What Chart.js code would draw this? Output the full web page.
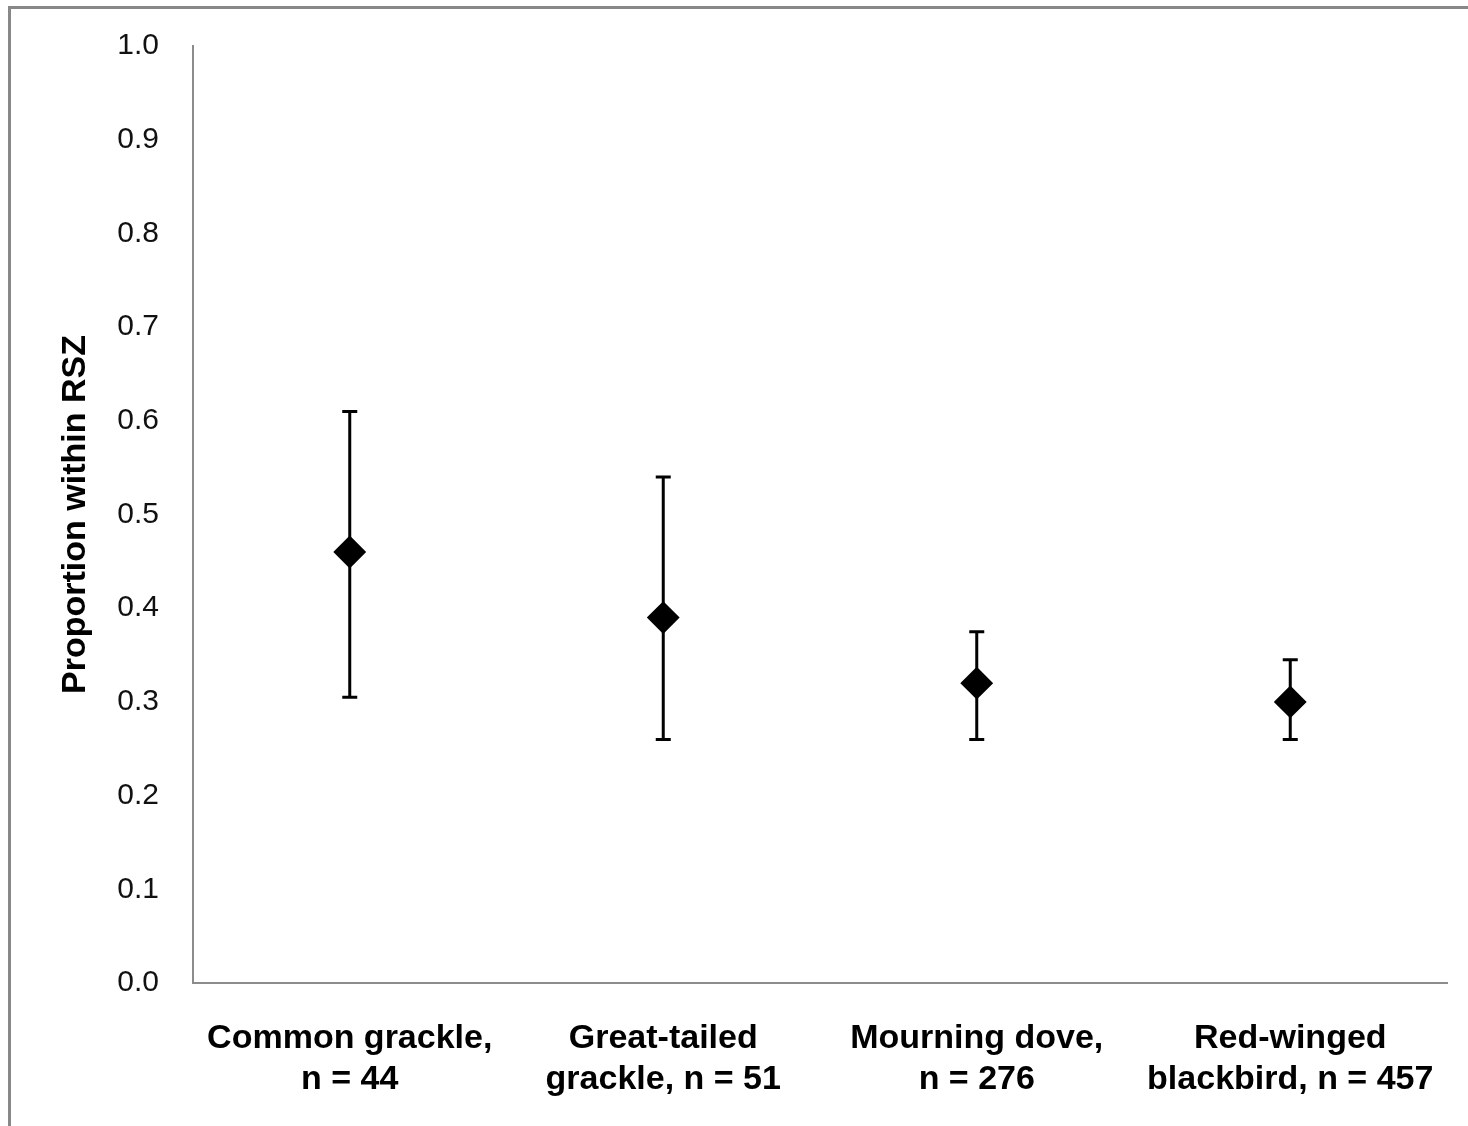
<!DOCTYPE html>
<html>
<head>
<meta charset="utf-8">
<script src="https://cdn.jsdelivr.net/npm/chart.js@4.4.1/dist/chart.umd.min.js"></script>
<style>
  html, body { margin: 0; padding: 0; background: #ffffff; }
  #wrap { width: 1468px; height: 1126px; }
</style>
</head>
<body>
<div id="wrap"><canvas id="c" width="1468" height="1126"></canvas></div>
<script>
// Species sampled, with sample sizes
const categories = [
  ['Common grackle,', 'n = 44'],
  ['Great-tailed', 'grackle, n = 51'],
  ['Mourning dove,', 'n = 276'],
  ['Red-winged', 'blackbird, n = 457']
];
// Proportion of individuals within the RSZ and its confidence limits
const proportion = [0.46, 0.39, 0.32, 0.30];
const lowerLimit = [0.305, 0.26, 0.26, 0.26];
const upperLimit = [0.61, 0.54, 0.375, 0.345];
// Y axis tick range
const yMin = 0.0;
const yMax = 1.0;
const yStep = 0.1;

const AXIS_GREY = '#8c8c8c';

// Whisker lines with end caps, drawn under the diamond markers
const errorBars = {
  id: 'errorBars',
  beforeDatasetsDraw(chart) {
    const { ctx, scales: { x, y } } = chart;
    ctx.save();
    ctx.strokeStyle = '#000000';
    ctx.lineWidth = 3;
    const cap = 7.5;
    proportion.forEach((v, i) => {
      const px = x.getPixelForValue(i);
      const yTop = y.getPixelForValue(upperLimit[i]);
      const yBot = y.getPixelForValue(lowerLimit[i]);
      ctx.beginPath();
      ctx.moveTo(px, yTop);
      ctx.lineTo(px, yBot);
      ctx.moveTo(px - cap, yTop);
      ctx.lineTo(px + cap, yTop);
      ctx.moveTo(px - cap, yBot);
      ctx.lineTo(px + cap, yBot);
      ctx.stroke();
    });
    ctx.restore();
  }
};

// Grey frame around the whole figure
const frame = {
  id: 'frame',
  afterDraw(chart) {
    const { ctx } = chart;
    ctx.save();
    ctx.strokeStyle = '#888888';
    ctx.lineWidth = 3;
    ctx.strokeRect(9.5, 7.5, 1500, 1200);
    ctx.restore();
  }
};

new Chart(document.getElementById('c'), {
  type: 'line',
  data: {
    labels: categories,
    datasets: [{
      data: proportion,
      showLine: false,
      pointStyle: 'rectRot',
      pointRadius: 15,
      pointHoverRadius: 15,
      pointBackgroundColor: '#000000',
      pointBorderColor: '#000000',
      pointBorderWidth: 2
    }]
  },
  options: {
    responsive: false,
    animation: false,
    events: [],
    layout: { padding: { left: 12, top: 46, right: 21, bottom: 0 } },
    plugins: {
      legend: { display: false },
      tooltip: { enabled: false }
    },
    scales: {
      x: {
        type: 'category',
        offset: true,
        grid: { display: false, drawTicks: false },
        border: { display: true, color: AXIS_GREY, width: 2 },
        ticks: {
          color: '#000000',
          padding: 35,
          maxRotation: 0,
          autoSkip: false,
          font: { family: '"Liberation Sans", Arial, sans-serif', size: 34, weight: 'bold', lineHeight: 1.2 }
        },
        afterFit(scale) {
          scale.height = 143;
          scale.paddingLeft = 0;
          scale.paddingRight = 0;
        }
      },
      y: {
        min: yMin,
        max: yMax,
        grid: { display: false, drawTicks: false },
        border: { display: true, color: AXIS_GREY, width: 2 },
        ticks: {
          stepSize: yStep,
          color: '#111111',
          padding: 34,
          font: { family: '"Liberation Sans", Arial, sans-serif', size: 30 },
          callback: (v) => Number(v).toFixed(1)
        },
        title: {
          display: true,
          text: 'Proportion within RSZ',
          color: '#000000',
          padding: { top: 43, bottom: 0 },
          font: { family: '"Liberation Sans", Arial, sans-serif', size: 34, weight: 'bold' }
        },
        afterFit(scale) {
          scale.width = 181;
          scale.paddingTop = 0;
          scale.paddingBottom = 0;
        }
      }
    }
  },
  plugins: [errorBars, frame]
});
</script>
</body>
</html>
